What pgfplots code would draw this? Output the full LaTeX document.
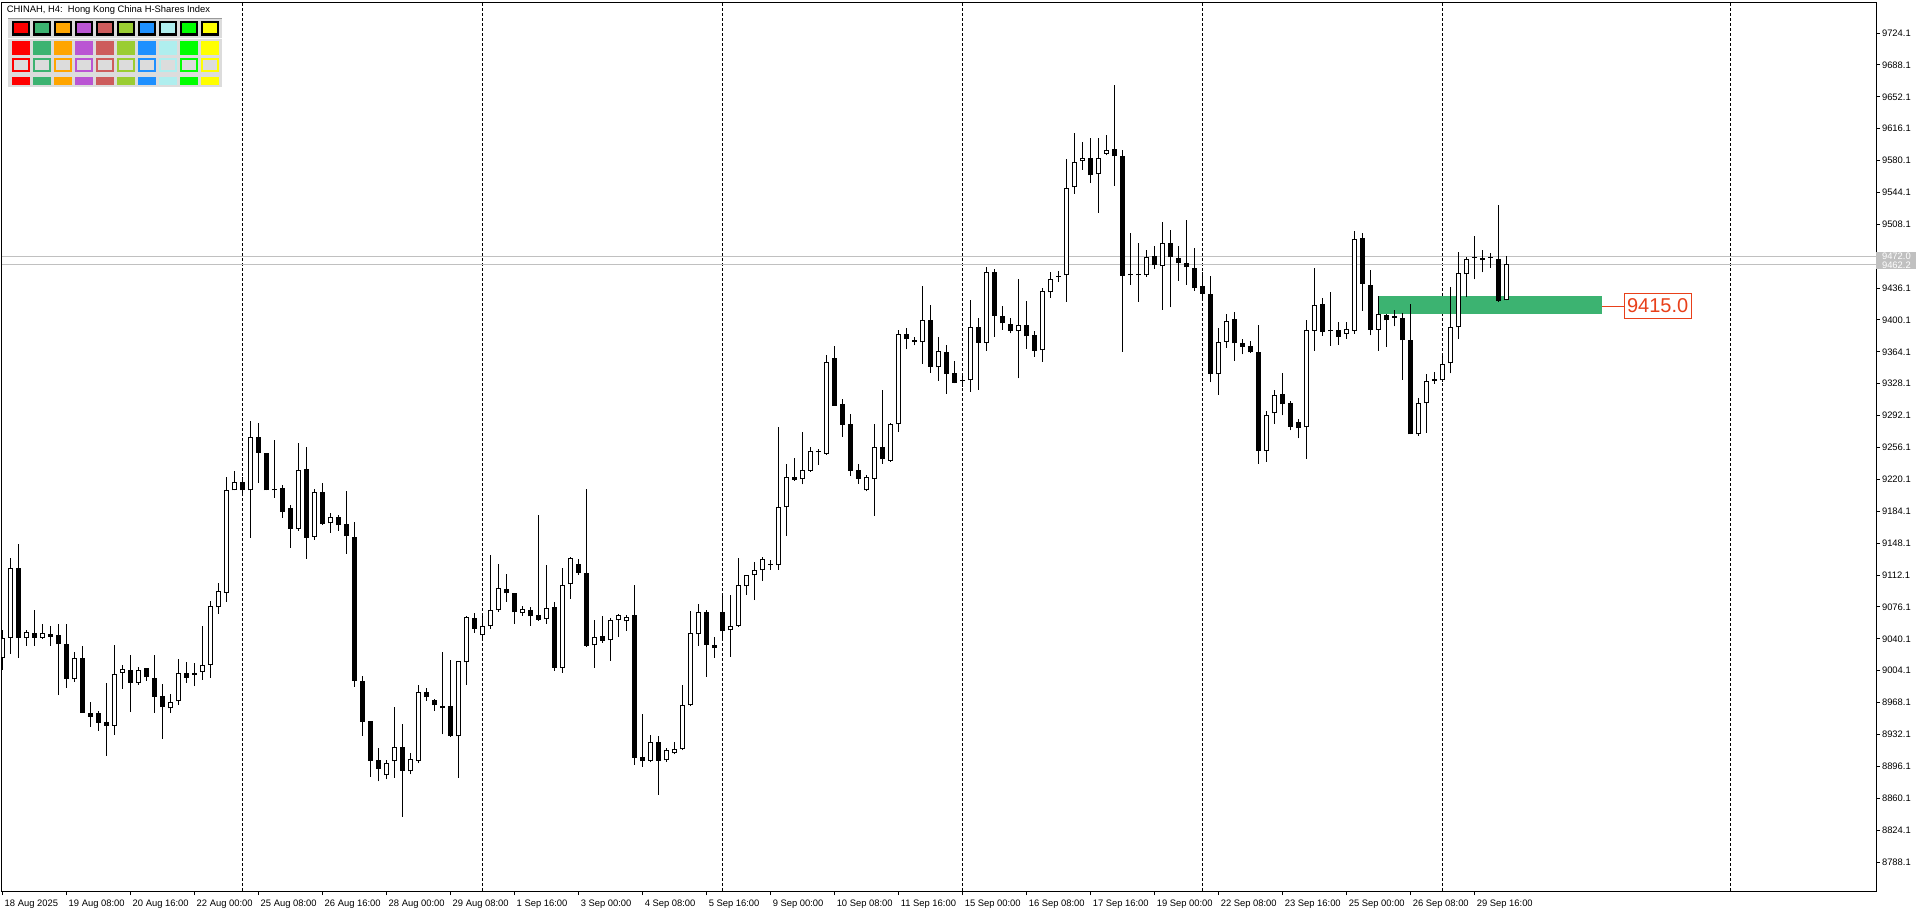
\documentclass[border=0pt]{standalone}
\usepackage{fontspec}
\setmainfont{Liberation Sans}
\usepackage{pgfplots}
\usepackage{pgfplotstable}
\pgfplotsset{compat=1.18}
\definecolor{zone}{HTML}{3CB371}
\definecolor{lbl}{HTML}{E8401A}
\definecolor{silv}{HTML}{C0C0C0}
\definecolor{pgray}{HTML}{DCDCDC}
\definecolor{c0}{HTML}{FF0000}
\definecolor{c1}{HTML}{3CB371}
\definecolor{c2}{HTML}{FFA500}
\definecolor{c3}{HTML}{BA55D3}
\definecolor{c4}{HTML}{CD5C5C}
\definecolor{c5}{HTML}{9ACD32}
\definecolor{c6}{HTML}{1E90FF}
\definecolor{c7}{HTML}{AFEEEE}
\definecolor{c8}{HTML}{00FF00}
\definecolor{c9}{HTML}{FFFF00}
\newcommand\mtfont{\fontsize{4.7}{5.6}\selectfont}
\pgfplotstableread{
x o h l c
0 9018.1 9050.0 9005.0 9040.6
1 9041.4 9131.4 9023.3 9119.7
2 9119.7 9147.2 9018.8 9041.4
3 9040.6 9050.1 9032.4 9047.4
4 9046.3 9072.6 9032.4 9041.4
5 9041.4 9056.5 9039.9 9046.3
6 9045.2 9054.2 9032.4 9042.5
7 9044.0 9056.5 8976.7 9033.9
8 9033.9 9056.5 8984.9 8995.1
9 8994.4 9024.8 8991.7 9018.1
10 9018.1 9031.6 8956.7 8956.7
11 8956.0 8968.4 8940.9 8952.2
12 8956.0 8958.6 8936.4 8945.4
13 8945.8 8989.8 8908.2 8942.0
14 8942.0 9032.7 8931.9 9000.0
15 9001.9 9010.2 8983.8 9005.6
16 9004.5 9021.5 8957.5 8990.6
17 8990.6 9008.7 8988.3 9004.5
18 9006.8 9006.8 8992.9 8996.6
19 8995.5 9021.5 8956.7 8974.8
20 8975.2 8988.7 8927.0 8963.5
21 8961.6 8977.4 8956.7 8969.1
22 8969.5 9017.3 8965.8 9001.1
23 9001.1 9013.6 8990.6 8996.2
24 9001.1 9012.4 8986.8 8999.6
25 9002.3 9054.2 8994.0 9010.2
26 9010.9 9082.8 8996.2 9076.8
27 9075.7 9102.7 9068.5 9093.7
28 9092.2 9222.4 9082.0 9207.8
29 9207.8 9229.2 9207.8 9216.8
30 9216.8 9223.2 9201.0 9207.8
31 9207.8 9285.7 9154.3 9267.6
32 9267.6 9283.4 9216.4 9250.3
33 9249.5 9249.5 9207.8 9207.8
34 9208.9 9264.6 9199.5 9207.8
35 9210.0 9213.4 9176.9 9183.7
36 9187.4 9190.8 9143.0 9164.5
37 9163.7 9261.2 9162.2 9230.3
38 9231.5 9256.7 9130.6 9154.3
39 9155.4 9208.9 9152.1 9205.5
40 9205.5 9216.0 9169.0 9169.7
41 9170.5 9181.8 9160.0 9178.0
42 9178.0 9179.5 9162.2 9168.2
43 9169.4 9207.0 9136.2 9155.8
44 9154.7 9171.6 8986.1 8992.9
45 8992.1 8998.1 8930.8 8946.6
46 8946.9 8946.9 8884.5 8902.5
47 8902.9 8916.5 8879.2 8893.5
48 8886.0 8902.9 8881.4 8899.5
49 8901.8 8963.1 8883.3 8917.6
50 8917.6 8943.9 8839.3 8891.2
51 8890.5 8910.8 8887.1 8904.0
52 8902.5 8987.6 8899.5 8979.7
53 8979.7 8984.6 8970.3 8974.0
54 8970.7 8971.8 8959.0 8965.0
55 8964.3 9025.2 8932.3 8961.6
56 8963.9 9016.2 8929.6 8930.8
57 8930.0 9014.7 8883.3 9014.7
58 9013.6 9065.9 8988.3 9064.4
59 9063.2 9069.6 9047.0 9051.6
60 9044.0 9067.4 9038.8 9054.9
61 9054.2 9134.4 9051.6 9072.3
62 9072.3 9124.2 9070.8 9097.1
63 9096.0 9113.3 9082.0 9091.5
64 9091.5 9091.5 9057.2 9070.0
65 9068.9 9077.2 9066.2 9073.4
66 9072.3 9075.7 9054.9 9065.5
67 9066.6 9179.9 9060.6 9061.7
68 9062.1 9123.4 9057.2 9074.5
69 9075.7 9081.7 9004.1 9007.5
70 9007.5 9120.1 9001.9 9100.9
71 9101.6 9132.9 9085.4 9131.0
72 9124.2 9130.2 9112.5 9114.8
73 9114.0 9209.3 9031.2 9032.4
74 9032.7 9061.4 9007.5 9041.8
75 9042.9 9065.9 9035.8 9038.0
76 9038.4 9063.2 9015.4 9061.0
77 9061.0 9068.1 9042.5 9067.0
78 9059.8 9067.0 9049.3 9064.7
79 9066.6 9100.9 8898.0 8905.9
80 8906.7 8955.6 8895.8 8901.8
81 8902.5 8931.5 8900.6 8923.2
82 8923.2 8930.0 8864.1 8902.5
83 8902.9 8917.2 8901.4 8914.2
84 8910.8 8924.0 8909.7 8915.3
85 8915.3 8988.0 8914.6 8965.0
86 8965.0 9071.5 8963.9 9046.3
87 9045.2 9079.0 9032.4 9070.0
88 9070.0 9072.3 8997.4 9033.5
89 9032.7 9041.8 9018.8 9029.4
90 9070.0 9091.1 9040.6 9048.6
91 9049.7 9089.6 9020.0 9054.9
92 9054.9 9131.0 9053.8 9100.5
93 9099.4 9112.2 9090.0 9111.8
94 9111.8 9126.5 9083.9 9117.4
95 9117.4 9132.5 9105.8 9129.8
96 9123.8 9129.1 9118.2 9124.2
97 9123.1 9279.3 9118.2 9188.6
98 9188.6 9237.5 9156.6 9223.2
99 9222.4 9244.3 9218.7 9219.8
100 9220.2 9273.2 9214.5 9230.3
101 9230.0 9256.3 9228.8 9251.8
102 9250.6 9254.4 9236.7 9251.0
103 9249.2 9360.6 9248.0 9352.3
104 9356.8 9370.3 9303.3 9303.3
105 9304.9 9310.5 9268.3 9281.9
106 9282.3 9293.6 9224.3 9230.0
107 9230.3 9237.1 9215.3 9220.9
108 9207.8 9224.7 9206.6 9222.4
109 9220.9 9282.3 9179.1 9256.3
110 9256.3 9321.0 9237.9 9242.8
111 9240.9 9283.4 9240.1 9282.3
112 9282.3 9388.4 9274.0 9383.9
113 9383.9 9390.7 9367.0 9378.2
114 9377.1 9380.5 9371.5 9375.6
115 9374.9 9438.5 9350.8 9399.7
116 9399.7 9416.6 9340.6 9347.4
117 9346.6 9380.5 9331.6 9364.7
118 9363.6 9371.5 9316.9 9339.5
119 9339.9 9353.4 9328.6 9329.3
120 9330.8 9337.6 9324.8 9331.2
121 9332.0 9422.3 9319.2 9392.5
122 9392.5 9402.0 9321.4 9374.5
123 9374.1 9460.0 9365.4 9454.6
124 9454.6 9458.0 9381.3 9405.0
125 9404.6 9415.9 9388.8 9396.3
126 9395.2 9401.9 9385.0 9388.0
127 9387.3 9446.4 9334.2 9394.0
128 9394.0 9421.1 9367.7 9381.6
129 9382.7 9387.3 9358.7 9365.4
130 9365.8 9436.6 9353.0 9432.4
131 9431.3 9454.3 9425.3 9446.0
132 9449.0 9455.8 9443.3 9449.7
133 9450.5 9581.8 9420.8 9549.5
134 9549.9 9610.8 9542.7 9578.1
135 9579.2 9600.7 9569.8 9582.6
136 9582.6 9605.6 9554.7 9563.4
137 9564.5 9605.6 9521.2 9582.6
138 9587.9 9608.6 9586.0 9591.6
139 9592.8 9665.4 9551.7 9584.9
140 9584.9 9591.6 9364.3 9450.1
141 9450.5 9498.3 9440.0 9450.5
142 9450.5 9486.6 9420.8 9450.5
143 9450.5 9479.1 9449.0 9470.8
144 9471.9 9483.2 9458.0 9461.8
145 9460.7 9510.7 9411.7 9486.6
146 9486.6 9501.7 9414.4 9470.8
147 9469.7 9483.6 9444.5 9464.0
148 9464.4 9513.0 9440.0 9459.5
149 9458.4 9481.4 9433.2 9435.8
150 9438.1 9454.3 9424.5 9429.8
151 9429.0 9449.4 9329.7 9339.5
152 9338.7 9391.0 9315.8 9374.8
153 9375.6 9406.5 9368.8 9399.3
154 9400.8 9409.1 9354.1 9373.7
155 9373.7 9378.2 9361.3 9370.0
156 9370.3 9376.0 9363.2 9363.6
157 9363.9 9394.4 9238.0 9252.0
158 9252.0 9297.3 9240.0 9292.8
159 9294.7 9321.0 9283.0 9315.0
160 9316.1 9339.8 9292.4 9304.8
161 9305.9 9308.6 9275.5 9279.6
162 9284.5 9288.3 9266.5 9277.7
163 9278.9 9399.7 9243.0 9388.4
164 9388.0 9458.8 9365.4 9416.6
165 9417.7 9424.5 9382.4 9386.9
166 9387.3 9431.3 9371.1 9387.3
167 9388.8 9397.8 9372.2 9381.2
168 9384.6 9397.8 9379.0 9389.5
169 9388.0 9500.5 9384.6 9491.1
170 9492.3 9497.9 9410.6 9441.1
171 9439.2 9456.1 9382.8 9389.1
172 9389.1 9427.2 9365.4 9406.5
173 9405.3 9407.2 9369.9 9399.7
174 9404.6 9411.0 9392.9 9402.7
175 9401.9 9407.6 9332.7 9377.1
176 9377.1 9417.7 9271.0 9271.0
177 9271.0 9312.0 9269.5 9305.9
178 9305.9 9339.1 9272.9 9330.8
179 9331.2 9341.3 9328.2 9333.4
180 9331.9 9359.0 9330.4 9350.0
181 9351.1 9437.3 9339.8 9392.2
182 9391.8 9477.2 9379.0 9452.8
183 9451.6 9471.2 9426.4 9468.6
184 9470.1 9494.9 9446.0 9470.1
185 9470.4 9479.1 9453.9 9467.4
186 9470.1 9475.3 9459.2 9470.1
187 9469.0 9529.9 9420.8 9421.5
188 9422.3 9472.3 9422.3 9462.9
}\ohlc
\begin{document}
\begin{tikzpicture}
\path[use as bounding box] (0,0) rectangle (960pt,-457.5pt);
\begin{axis}[
  at={(1pt,-445.5pt)}, anchor=south west,
  width=937pt, height=444.5pt, scale only axis,
  xmin=-0.04, xmax=234.2, ymin=8755.4, ymax=9759.1,
  clip mode=individual,
  axis line style={black, line width=0.5pt},
  tick align=outside, major tick length=2pt,
  tick style={black, line width=0.5pt},
  xtick pos=left, ytick pos=right, yticklabel pos=right,
  /pgf/number format/assume math mode=true,
  ytick={8788.1,8824.1,8860.1,8896.1,8932.1,8968.1,9004.1,9040.1,9076.1,9112.1,9148.1,9184.1,9220.1,9256.1,9292.1,9328.1,9364.1,9400.1,9436.1,9508.1,9544.1,9580.1,9616.1,9652.1,9688.1,9724.1},
  yticklabels={8788.1,8824.1,8860.1,8896.1,8932.1,8968.1,9004.1,9040.1,9076.1,9112.1,9148.1,9184.1,9220.1,9256.1,9292.1,9328.1,9364.1,9400.1,9436.1,9508.1,9544.1,9580.1,9616.1,9652.1,9688.1,9724.1},
  yticklabel style={font=\mtfont, anchor=west, inner sep=0.8pt},
  xtick={0,8,16,24,32,40,48,56,64,72,80,88,96,104,112,120,128,136,144,152,160,168,176,184},
  xticklabels={18 Aug 2025,19 Aug 08:00,20 Aug 16:00,22 Aug 00:00,25 Aug 08:00,26 Aug 16:00,28 Aug 00:00,29 Aug 08:00,1 Sep 16:00,3 Sep 00:00,4 Sep 08:00,5 Sep 16:00,9 Sep 00:00,10 Sep 08:00,11 Sep 16:00,15 Sep 00:00,16 Sep 08:00,17 Sep 16:00,19 Sep 00:00,22 Sep 08:00,23 Sep 16:00,25 Sep 00:00,26 Sep 08:00,29 Sep 16:00},
  xticklabel style={font=\mtfont, anchor=north west, inner sep=1pt, xshift=0pt, yshift=-1.5pt},
]
% week separators
\addplot[black, line width=0.5pt, dash pattern=on 1.5pt off 1pt] coordinates {(30,8755.4) (30,9759.1)};
\addplot[black, line width=0.5pt, dash pattern=on 1.5pt off 1pt] coordinates {(60,8755.4) (60,9759.1)};
\addplot[black, line width=0.5pt, dash pattern=on 1.5pt off 1pt] coordinates {(90,8755.4) (90,9759.1)};
\addplot[black, line width=0.5pt, dash pattern=on 1.5pt off 1pt] coordinates {(120,8755.4) (120,9759.1)};
\addplot[black, line width=0.5pt, dash pattern=on 1.5pt off 1pt] coordinates {(150,8755.4) (150,9759.1)};
\addplot[black, line width=0.5pt, dash pattern=on 1.5pt off 1pt] coordinates {(180,8755.4) (180,9759.1)};
\addplot[black, line width=0.5pt, dash pattern=on 1.5pt off 1pt] coordinates {(216,8755.4) (216,9759.1)};
% bid / ask lines
\addplot[silv, line width=0.5pt] coordinates {(-0.04,9472.0) (234.2,9472.0)};
\addplot[silv, line width=0.5pt] coordinates {(-0.04,9462.2) (234.2,9462.2)};
% zone
\addplot[fill=zone, draw=none] coordinates {(172,9407.2) (200,9407.2) (200,9427.2) (172,9427.2)} -- cycle;
\addplot[lbl, line width=0.5pt] coordinates {(200,9415.5) (202.7,9415.5)};
% wicks
\addplot[draw=none, mark=none, error bars/.cd, y dir=plus, y explicit, error mark=none,
  error bar style={draw=black, solid, line width=0.5pt}]
  table[x=x, y=l, y error plus expr={\thisrow{h}-\thisrow{l}}]{\ohlc};
% bodies
\addplot[draw=none, mark=none, error bars/.cd, y dir=plus, y explicit, error mark=none,
  error bar style={draw=black, solid, line width=2.6pt}]
  table[x=x, y expr={min(\thisrow{o},\thisrow{c})}, y error plus expr={max(abs(\thisrow{c}-\thisrow{o}),1.13)}]{\ohlc};
% white interiors
\addplot[draw=none, mark=none, error bars/.cd, y dir=plus, y explicit, error mark=none,
  error bar style={draw=white, solid, line width=1.6pt}]
  table[x=x, y expr={\thisrow{o}+1.13}, y error plus expr={max(\thisrow{c}-\thisrow{o}-2.26,0)}]{\ohlc};
% price label
\node[draw=lbl, line width=0.5pt, fill=white, text=lbl, inner sep=0pt, minimum width=33.5pt, minimum height=12.85pt, font=\fontsize{10}{12}\selectfont] at (axis cs:206.9,9416) {9415.0};
\node[fill=silv, text=white, font=\mtfont, anchor=west, inner xsep=2.8pt, inner ysep=0.5pt] at (axis cs:234.2,9462.2) {9462.2};
\node[fill=silv, text=white, font=\mtfont, anchor=west, inner xsep=2.8pt, inner ysep=0.5pt] at (axis cs:234.2,9472.0) {9472.0};
\end{axis}
\begin{scope}[x=0.5pt, y=-0.5pt]
\node[anchor=west, inner sep=0pt, font=\mtfont] at (6.5,10) {CHINAH, H4:\ \ Hong Kong China H-Shares Index};
\fill[pgray] (8.3,18) rectangle (222,87.5);
\fill[silv!80!black] (8.3,18) rectangle (222,19.5);
\fill[white!90!pgray] (8.3,37.8) rectangle (222,38.8);
\foreach \j in {0,...,9} {
  \pgfmathsetmacro{\xx}{11.7+21*\j}
  \fill[black] (\xx,21.3) rectangle ++(18.3,15);
  \fill[c\j] (\xx+2.2,23.3) rectangle ++(13.8,10.2);
  \fill[c\j] (\xx,40.7) rectangle ++(18.3,14.3);
  \fill[c\j] (\xx,58) rectangle ++(18.3,14.3);
  \fill[pgray] (\xx+2,60.3) rectangle ++(14.3,10);
  \fill[c\j] (\xx,76.7) rectangle ++(18.3,8);
}
\end{scope}
\end{tikzpicture}
\end{document}
